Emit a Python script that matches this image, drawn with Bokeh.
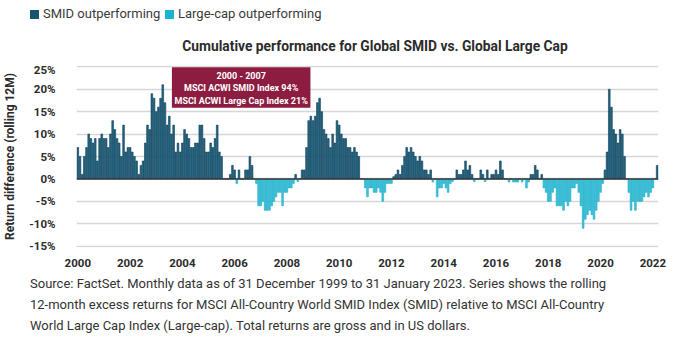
import numpy as np
from bokeh.plotting import figure
from bokeh.layouts import column
from bokeh.models import (ColumnDataSource, Range1d, FixedTicker, PrintfTickFormatter,
                          BoxAnnotation, Label, Span, Div)
from bokeh.embed import file_html
from bokeh.resources import INLINE

# ---------------- data ----------------
first_year = 2000
year_ticks = [2000, 2002, 2004, 2006, 2008, 2010, 2012, 2014, 2016, 2018, 2020, 2022]
pct_ticks = [-15, -10, -5, 0, 5, 10, 15, 20, 25]

# rolling 12M return difference (SMID minus Large cap, %), monthly, by two-year blocks
vals_2000_01 = [7, 5, 1, 5, 7, 10, 9, 8, 9, 4, 9, 10, 9, 9, 7, 10, 13, 11, 9, 8, 5, 12, 6, 7]
vals_2002_03 = [7, 6, 5, 4, 1, 3, 4, 8, 12, 11, 19, 18, 15, 16, 18, 21, 17, 12, 14, 10, 12, 6, 8, 6]
vals_2004_05 = [8, 11, 10, 9, 7, 7, 8, 8, 12, 12, 9, 6, 6, 8, 7, 9, 12, 6, 5, 0, 0, 0, 1, 3]
vals_2006_07 = [2, -1, 2, 0, 0, 2, 2, 5, 3, 0, -1, -6, -6, -5, -7, -7, -7, -6, -5, -4, -3, -3, -6, -3]
vals_2008_09 = [-3, -2, -2, -1, 1, -0.6, 0, 2, 2, 7, 13, 14, 13, 14, 17, 18, 15, 11, 10, 9, 7, 10, 8, 13]
vals_2010_11 = [12, 10, 9, 9, 7, 7, 6, 7, 6, 5, 0, 0, -2, -4, -2, -2, -3, -3, -2, -3, -5, -3, -1, -1]
vals_2012_13 = [-1, 0.5, 1, 2, 1, 3, 5, 7, 6, 7, 6, 5, 4, 5, 4, 2, 2, 1, 2, -0.7, 0, -4, -2, -2]
vals_2014_15 = [-1, -2, -3, -1, -0.6, 0, 2, 1, 1, 2, 4, 2, 3, 1, -0.6, 0, 0, 2, 1, -0.6, 2, 0, 1, 1]
vals_2016_17 = [2, 1, 4, 2, 0, 0, -0.7, 0, -0.7, -0.7, -0.7, 0, -0.7, 0, -2, -0.7, 1, 1, 3, 2, 0, 1, -2, -3]
vals_2018_19 = [-5, -5, -3, -2, -6, -6, -6, -7, -5, -6, -5, -2, -2, -1, -3, -6, -11, -9, -8, -7, -8, -9, -7, -5]
vals_2020_21 = [-3, -1, 2, 6, 20, 16, 11, 10, 8, 11, 10, 5, 0, -3, -7, -5, -7, -5, -5, -5, -4, -3, -4, -3]
vals_2022 = [-2, 0, 3]

series_names = ["SMID outperforming", "Large-cap outperforming"]
chart_title = "Cumulative performance for Global SMID vs. Global Large Cap"
y_title = "Return difference (rolling 12M)"
note_head = "2000 - 2007"
note_lines = ["MSCI ACWI SMID Index 94%", "MSCI ACWI Large Cap Index 21%"]
source_lines = [
    "Source: FactSet. Monthly data as of 31 December 1999 to 31 January 2023. Series shows the rolling",
    "12-month excess returns for MSCI All-Country World SMID Index (SMID) relative to MSCI All-Country",
    "World Large Cap Index (Large-cap). Total returns are gross and in US dollars.",
]

# ---------------- styling ----------------
DARK_FILL, DARK_LINE = "#1f6887", "#0d3b52"
LIGHT_FILL, LIGHT_LINE = "#3fc4dc", "#17a9c6"
LEGEND_COLORS = ["#17556f", "#1ab4d1"]
BOX_COLOR = "#8c1d40"
TEXT = "#2b2b2b"
FONT = "Roboto"
W = 700
HEAD_H, MAIN_H, FOOT_H = 62, 213, 62

# ---------------- header (legend + title) ----------------
legend_x = [30, 165]
legend_html = "".join(
    f'<span style="position:absolute;left:{lx}px;top:10px;width:9px;height:9px;'
    f'background:{c};"></span>'
    f'<span style="position:absolute;left:{lx + 13}px;top:5px;line-height:18px;'
    f'font-size:13px;color:#3a3a3a;white-space:nowrap;">{name}</span>'
    for lx, c, name in zip(legend_x, LEGEND_COLORS, series_names))
title_html = (f'<div style="position:absolute;left:25px;width:{W}px;top:37px;line-height:18px;'
              f'text-align:center;font-size:13.8px;font-weight:bold;color:{TEXT};'
              f'white-space:nowrap;">{chart_title}</div>')
head = Div(text=f'<div style="position:relative;width:{W}px;height:{HEAD_H}px;'
                f'font-family:{FONT};">{legend_html}{title_html}</div>',
           width=W, height=HEAD_H, margin=0)

# ---------------- main chart ----------------
values = np.array(vals_2000_01 + vals_2002_03 + vals_2004_05 + vals_2006_07 + vals_2008_09 +
                  vals_2010_11 + vals_2012_13 + vals_2014_15 + vals_2016_17 + vals_2018_19 +
                  vals_2020_21 + vals_2022, dtype=float)
n = len(values)
xs = first_year + np.arange(n) / 12.0
pos = values >= 0
src_pos = ColumnDataSource(dict(x=xs[pos], top=values[pos]))
src_neg = ColumnDataSource(dict(x=xs[~pos], top=values[~pos]))

p = figure(width=W, height=MAIN_H, output_backend="svg", toolbar_location=None,
           x_range=Range1d(first_year - 0.6 / 12, first_year + (n - 0.4) / 12),
           y_range=Range1d(-15.3, 25.3), margin=0,
           min_border_left=74, min_border_right=42, min_border_top=3, min_border_bottom=28)
p.outline_line_color = None
p.background_fill_color = "white"
p.border_fill_color = "white"
p.xgrid.visible = False
p.ygrid.ticker = FixedTicker(ticks=pct_ticks)
p.ygrid.grid_line_color = "#d6d6d6"
p.ygrid.grid_line_width = 1.5

bw = 0.78 / 12
p.vbar(x="x", top="top", bottom=0, width=bw, source=src_pos,
       fill_color=DARK_FILL, line_color=DARK_LINE, line_width=0.6)
p.vbar(x="x", top="top", bottom=0, width=bw, source=src_neg,
       fill_color=LIGHT_FILL, line_color=LIGHT_LINE, line_width=0.6)

p.add_layout(Span(location=0, dimension="width", line_color="#3a3a3a", line_width=1.5))

for ax in (p.xaxis[0], p.yaxis[0]):
    ax.axis_line_color = None
    ax.major_tick_line_color = None
    ax.minor_tick_line_color = None
    ax.major_label_text_font = FONT
    ax.major_label_text_font_style = "bold"
    ax.major_label_text_font_size = "11.5px"
    ax.major_label_text_color = TEXT
p.xaxis.ticker = FixedTicker(ticks=year_ticks)
p.xaxis.major_label_standoff = 5
p.yaxis.ticker = FixedTicker(ticks=pct_ticks)
p.yaxis.formatter = PrintfTickFormatter(format="%d%%")
p.yaxis.major_label_standoff = 15
p.yaxis.axis_label = y_title
p.yaxis.axis_label_text_font = FONT
p.yaxis.axis_label_text_font_style = "bold"
p.yaxis.axis_label_text_font_size = "12px"
p.yaxis.axis_label_text_color = TEXT
p.yaxis.axis_label_standoff = 9

# annotation box
box_l, box_r, box_b, box_t = 2003.6, 2008.9, 15.9, 24.9
p.add_layout(BoxAnnotation(left=box_l, right=box_r, bottom=box_b, top=box_t,
                           fill_color=BOX_COLOR, fill_alpha=1, line_color=None))
cx = (box_l + box_r) / 2
for k, t in enumerate([note_head] + note_lines):
    p.add_layout(Label(x=cx, y=23.0 - 2.8 * k, text=t, text_align="center",
                       text_baseline="middle", text_color="white", text_font=FONT,
                       text_font_style="bold", text_font_size="9px"))

# ---------------- footer (source) ----------------
foot = Div(text=f'<div style="position:relative;width:{W}px;height:{FOOT_H}px;top:-2px;'
                f'font-family:{FONT};font-size:13px;line-height:21px;color:#333333;'
                f'padding-left:30px;box-sizing:border-box;white-space:nowrap;">'
                + "<br>".join(source_lines) + "</div>",
           width=W, height=FOOT_H, margin=0)

layout = column(head, p, foot, spacing=0)
open("out.html", "w").write(file_html(layout, INLINE))
